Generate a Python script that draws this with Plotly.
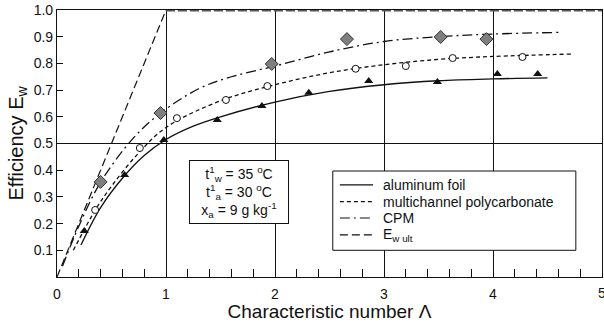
import plotly.graph_objects as go

# measured points
alu_x = [0.25, 0.62, 0.98, 1.47, 1.88, 2.31, 2.86, 3.49, 4.04, 4.41]
alu_y = [0.172, 0.382, 0.513, 0.588, 0.640, 0.690, 0.734, 0.730, 0.760, 0.760]
pc_x = [0.35, 0.76, 1.10, 1.55, 1.93, 2.74, 3.20, 3.63, 4.27]
pc_y = [0.251, 0.483, 0.595, 0.663, 0.715, 0.780, 0.790, 0.820, 0.824]
cpm_x = [0.40, 0.95, 1.97, 2.66, 3.52, 3.94]
cpm_y = [0.356, 0.614, 0.798, 0.891, 0.899, 0.891]

# fitted curves
alu_cx = [0.22, 0.4, 0.6, 0.8, 1.0, 1.25, 1.5, 2.0, 2.5, 3.0, 3.5, 4.0, 4.5]
alu_cy = [0.12, 0.26, 0.37, 0.455, 0.515, 0.565, 0.60, 0.655, 0.695, 0.72, 0.735, 0.742, 0.746]
pc_cx = [0.15, 0.35, 0.5, 0.75, 1.0, 1.5, 2.0, 2.5, 3.0, 3.5, 4.0, 4.72]
pc_cy = [0.10, 0.25, 0.34, 0.465, 0.56, 0.66, 0.72, 0.765, 0.795, 0.815, 0.826, 0.835]
cpm_cx = [0.05, 0.2, 0.4, 0.7, 0.95, 1.3, 1.6, 2.0, 2.5, 3.0, 3.5, 4.0, 4.6]
cpm_cy = [0.04, 0.19, 0.355, 0.52, 0.614, 0.705, 0.75, 0.79, 0.843, 0.882, 0.90, 0.91, 0.916]
ult_x = [0, 1, 5]
ult_y = [0, 1, 1]

y_ticks = [0.1, 0.2, 0.3, 0.4, 0.5, 0.6, 0.7, 0.8, 0.9, 1.0]
y_labels = ["0.1", "0.2", "0.3", "0.4", "0.5", "0.6", "0.7", "0.8", "0.9", "1.0"]
x_ticks = [0, 1, 2, 3, 4, 5]
x_labels = ["0", "1", "2", "3", "4", "5"]

names = ["aluminum foil", "multichannel polycarbonate", "CPM", "E<sub>w ult</sub>"]
dashes = ["solid", "4px,3px", "10px,4px,2px,4px", "8px,4px"]

FONT = "Liberation Sans, Arial, sans-serif"
INK = "#111111"

fig = go.Figure()

fig.add_trace(go.Scatter(x=alu_cx, y=alu_cy, mode="lines", line_shape="spline",
                         line=dict(color=INK, width=1.3, dash=dashes[0]), name=names[0]))
fig.add_trace(go.Scatter(x=pc_cx, y=pc_cy, mode="lines", line_shape="spline",
                         line=dict(color=INK, width=1.3, dash=dashes[1]), name=names[1]))
fig.add_trace(go.Scatter(x=cpm_cx, y=cpm_cy, mode="lines", line_shape="spline",
                         line=dict(color=INK, width=1.3, dash=dashes[2]), name=names[2]))
fig.add_trace(go.Scatter(x=ult_x, y=ult_y, mode="lines",
                         line=dict(color=INK, width=1.2, dash=dashes[3]), name=names[3]))
fig.add_trace(go.Scatter(x=ult_x[1:], y=ult_y[1:], mode="lines",
                         line=dict(color="#555555", width=3, dash="9px,3px"), cliponaxis=False))

fig.add_trace(go.Scatter(x=alu_x, y=alu_y, mode="markers",
                         marker=dict(symbol="triangle-up", size=8, color=INK)))
fig.add_trace(go.Scatter(x=pc_x, y=pc_y, mode="markers",
                         marker=dict(symbol="circle", size=7, color="white",
                                     line=dict(color=INK, width=1))))
fig.add_trace(go.Scatter(x=cpm_x, y=cpm_y, mode="markers",
                         marker=dict(symbol="diamond", size=10, color="#7f7f7f",
                                     line=dict(color="#333333", width=1))))

# horizontal reference line at 0.5
fig.add_hline(y=0.5, line=dict(color=INK, width=1.2), layer="below")

# condition box
fig.add_annotation(x=0.334, y=0.32, xref="paper", yref="paper", xanchor="center", yanchor="middle",
                   text="t<sup>1</sup><sub>w</sub> = 35 <sup>o</sup>C<br>t<sup>1</sup><sub>a</sub> = 30 <sup>o</sup>C<br>x<sub>a</sub> = 9 g kg<sup>-1</sup>",
                   showarrow=False, align="center", font=dict(family=FONT, size=14, color=INK),
                   bordercolor=INK, borderwidth=1, borderpad=3, bgcolor="white", width=92)

# manual legend box (paper coords)
LX0, LX1, LY0, LY1 = 0.506, 0.952, 0.10, 0.397
fig.add_shape(type="rect", xref="paper", yref="paper", x0=LX0, x1=LX1, y0=LY0, y1=LY1,
              line=dict(color=INK, width=1), fillcolor="white", layer="above")
row_y = [0.345, 0.282, 0.221, 0.158]
for i, nm in enumerate(names):
    fig.add_shape(type="line", xref="paper", yref="paper", x0=0.519, x1=0.580,
                  y0=row_y[i], y1=row_y[i], line=dict(color=INK, width=1.2, dash=dashes[i]),
                  layer="above")
    fig.add_annotation(x=0.594, y=row_y[i], xref="paper", yref="paper", xanchor="left",
                       yanchor="middle", text=nm, showarrow=False,
                       font=dict(family=FONT, size=14, color=INK))

# last x tick label (half cut by the right edge, as in the original)
fig.add_annotation(x=x_ticks[-1], y=0, xref="x", yref="paper", yshift=-6, yanchor="top",
                   xanchor="center", text=x_labels[-1], showarrow=False,
                   font=dict(family=FONT, size=14, color=INK))

fig.update_layout(
    width=604, height=322,
    margin=dict(l=57, r=2, t=10, b=45),
    paper_bgcolor="white", plot_bgcolor="white",
    showlegend=False,
    font=dict(family=FONT, size=14, color=INK),
    xaxis=dict(range=[0, 5], tickvals=x_ticks[:-1], ticktext=x_labels[:-1],
               ticks="inside", ticklen=8, tickcolor=INK,
               showgrid=True, gridcolor=INK, gridwidth=1.2, automargin=False,
               showline=True, linecolor=INK, linewidth=1.2, mirror=True, zeroline=False,
               minor=dict(dtick=0.2, ticks="inside", ticklen=8, tickcolor=INK, showgrid=False),
               tickfont=dict(size=14), ticklabelstandoff=4,
               title=dict(text="Characteristic number Λ", font=dict(size=19), standoff=7)),
    yaxis=dict(range=[0, 1], tickvals=y_ticks, ticktext=y_labels, ticks="inside", ticklen=6,
               tickcolor=INK, showgrid=False, automargin=False,
               showline=True, linecolor=INK, linewidth=1.2, mirror=True, zeroline=False,
               tickfont=dict(size=14),
               title=dict(text="Efficiency E<sub>w</sub>", font=dict(size=20), standoff=4)),
)

fig.write_html("out.html", config={"displayModeBar": False},
               post_script="document.body.style.margin='0px';document.body.style.overflow='hidden';")
